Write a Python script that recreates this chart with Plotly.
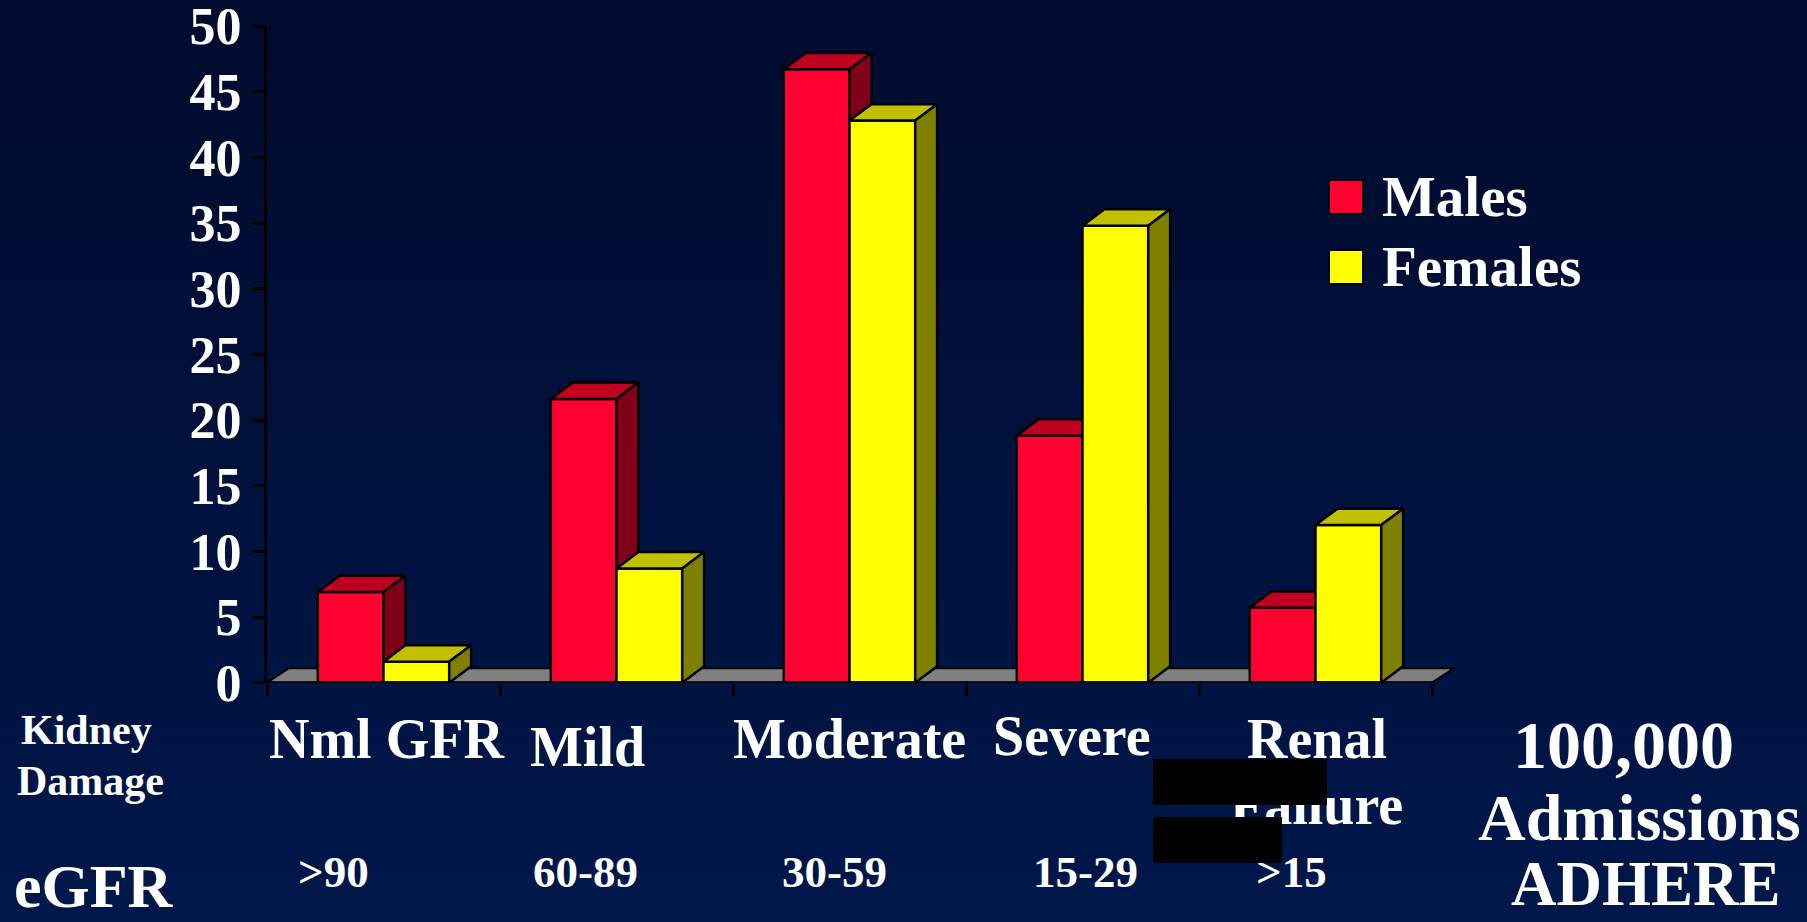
import plotly.graph_objects as go

# ---- data -------------------------------------------------------------
categories = ["Nml GFR", "Mild", "Moderate", "Severe", "Renal"]
category_second_line = ["", "", "", "", "Failure"]
egfr_labels = [">90", "60-89", "30-59", "15-29", ">15"]
series_names = ["Males", "Females"]
males = [6.9, 21.6, 46.7, 18.8, 5.7]
females = [1.6, 8.7, 42.8, 34.8, 12.0]
y_ticks = list(range(0, 51, 5))

# ---- page geometry ----------------------------------------------------
W, H = 1807, 922
FONT = "Liberation Serif"

def px(x):
    return x / W

def py(y):
    return 1 - y / H

# oblique "3-D" projection, in axis units
BAR_W = 0.282     # width of one bar (category units)
DEPTH_X = 0.094   # horizontal shift of the back faces
DEPTH_Y = 1.25    # vertical shift of the back faces (value units)
FLOOR_DY = 1.1

RED = dict(front="#FF0030", top="#C00020", side="#800018")
YEL = dict(front="#FFFF00", top="#C0C000", side="#808000")
EDGE = "black"

x_pos = list(range(len(categories)))


def faces(values, offset):
    """Polygons for the top and right-hand faces of each bar."""
    top_x, top_y, side_x, side_y = [], [], [], []
    for xc, v in zip(x_pos, values):
        x0 = xc + offset
        x1 = x0 + BAR_W
        top_x += [x0, x1, x1 + DEPTH_X, x0 + DEPTH_X, x0, None]
        top_y += [v, v, v + DEPTH_Y, v + DEPTH_Y, v, None]
        side_x += [x1, x1, x1 + DEPTH_X, x1 + DEPTH_X, x1, None]
        side_y += [0, v, v + DEPTH_Y, DEPTH_Y, 0, None]
    return top_x, top_y, side_x, side_y


def add_series(fig, name, values, offset, colors, xa, ya):
    fig.add_trace(go.Bar(
        x=x_pos, y=values, name=name, width=BAR_W, offset=offset,
        marker=dict(color=colors["front"], line=dict(color=EDGE, width=2.5)),
        showlegend=False, hoverinfo="skip", xaxis=xa, yaxis=ya,
    ))
    tx, ty, sx, sy = faces(values, offset)
    for fx, fy, col in ((tx, ty, colors["top"]), (sx, sy, colors["side"])):
        fig.add_trace(go.Scatter(
            x=fx, y=fy, mode="lines", fill="toself", fillcolor=col,
            line=dict(color=EDGE, width=2.5), showlegend=False,
            hoverinfo="skip", xaxis=xa, yaxis=ya,
        ))


fig = go.Figure()
# males on the base axes, females on an overlaid copy so they sit in front
add_series(fig, series_names[0], males, -BAR_W, RED, "x", "y")
add_series(fig, series_names[1], females, 0.0, YEL, "x2", "y2")

n = len(categories)
x_left, x_right = -0.5, n - 0.5
x_range = [x_left, x_right + 0.12]
y_range = [0, 50]
x_dom = [px(267), px(267 + (x_range[1] - x_range[0]) * 233)]
y_dom = [py(682.7), py(26)]

shapes = []
# background gradient
top_rgb = (0, 11, 45)
bot_rgb = (0, 23, 75)
bands = 60
for i in range(bands):
    t = i / (bands - 1)
    c = tuple(round(a + (b - a) * t) for a, b in zip(top_rgb, bot_rgb))
    shapes.append(dict(
        type="rect", xref="paper", yref="paper", layer="below",
        x0=0, x1=1, y0=1 - (i + 1) / bands - 0.002, y1=1 - i / bands,
        fillcolor="rgb(%d,%d,%d)" % c, line=dict(width=0),
    ))
# grey floor
shapes.append(dict(
    type="path", xref="x", yref="y", layer="below",
    path="M %f,0 L %f,0 L %f,%f L %f,%f Z" % (
        x_left, x_right, x_right + DEPTH_X, FLOOR_DY, x_left + DEPTH_X, FLOOR_DY),
    fillcolor="#808080", line=dict(color=EDGE, width=2),
))
shapes.append(dict(
    type="line", xref="x", yref="y", layer="above",
    x0=x_left, x1=x_right, y0=0, y1=0, line=dict(color=EDGE, width=3),
))
# legend swatches
legend_rows = [(series_names[0], RED["front"], 197), (series_names[1], YEL["front"], 267)]
for _, col, yc in legend_rows:
    shapes.append(dict(
        type="rect", xref="paper", yref="paper",
        x0=px(1329), x1=px(1363), y0=py(yc + 17), y1=py(yc - 17),
        fillcolor=col, line=dict(color=EDGE, width=2),
    ))

annotations = []


def text(s, x, y, size, xanchor="center"):
    annotations.append(dict(
        text=s, x=px(x), y=py(y), xref="paper", yref="paper",
        xanchor=xanchor, yanchor="middle", showarrow=False,
        font=dict(family=FONT, size=size, color="white", weight="bold"),
    ))


for name, _, yc in legend_rows:
    text(name, 1380, yc, 57, xanchor="left")

cat_pos = [(386, 739), (587, 747), (849, 739), (1072, 736), (1317, 739)]
for lab, (cx, cy) in zip(categories, cat_pos):
    text(lab, cx, cy, 56)
text(category_second_line[4], 1316, 805, 56)

egfr_x = [333, 585, 834, 1085, 1291]
for lab, cx in zip(egfr_labels, egfr_x):
    text(lab, cx, 872, 45)

text("Kidney", 86, 730, 42)
text("Damage", 90, 781, 42)
text("eGFR", 94, 886, 62)
text("100,000", 1623, 745, 68)
text("Admissions", 1639, 817, 66)
text("ADHERE", 1646, 884, 63)

# black cover boxes over part of the lower labels
for x0, y0, x1, y1 in ((1153, 759, 1327, 805), (1153, 817, 1282, 863)):
    annotations.append(dict(
        text=" ", x=px(x0), y=py(y0), xref="paper", yref="paper",
        xanchor="left", yanchor="top", showarrow=False,
        width=x1 - x0, height=y1 - y0, bgcolor="black",
        borderpad=0, borderwidth=0, font=dict(size=4),
    ))

fig.update_layout(
    template="none",
    width=W, height=H,
    margin=dict(l=0, r=0, t=0, b=0, autoexpand=False),
    paper_bgcolor="rgb(0,20,70)",
    plot_bgcolor="rgba(0,0,0,0)",
    showlegend=False,
    shapes=shapes,
    annotations=annotations,
    xaxis=dict(
        domain=x_dom, range=x_range, showgrid=False, zeroline=False,
        showline=False, showticklabels=False, automargin=False,
        tickmode="array", tickvals=[x_left + i for i in range(n + 1)],
        ticks="outside", ticklen=12, tickwidth=3, tickcolor=EDGE,
        fixedrange=True,
    ),
    yaxis=dict(
        domain=y_dom, range=y_range, showgrid=False, zeroline=False,
        showline=True, linecolor=EDGE, linewidth=3, automargin=False,
        tickmode="array", tickvals=y_ticks, ticktext=[str(v) for v in y_ticks],
        ticks="outside", ticklen=12, tickwidth=3, tickcolor=EDGE,
        tickfont=dict(family=FONT, size=52, color="white", weight="bold"),
        ticklabeloverflow="allow",
        fixedrange=True,
    ),
    xaxis2=dict(overlaying="x", matches="x", range=x_range, visible=False),
    yaxis2=dict(overlaying="y", matches="y", range=y_range, visible=False),
)

fig.write_html("out.html")
